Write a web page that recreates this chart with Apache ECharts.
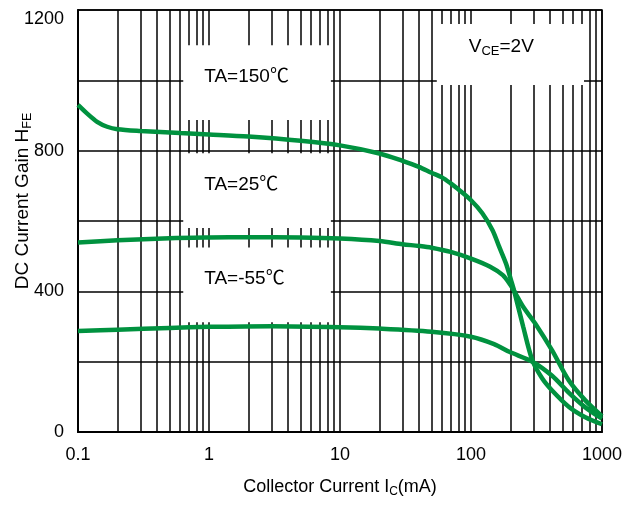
<!DOCTYPE html>
<html>
<head>
<meta charset="utf-8">
<title>hFE vs Ic</title>
<script src="https://cdn.jsdelivr.net/npm/echarts@6/dist/echarts.min.js"></script>
<style>
  html, body { margin: 0; padding: 0; background: #fff; }
  #chart { width: 637px; height: 505px; }
</style>
</head>
<body>
<div id="chart"></div>
<script>
// tick labels
var xTicks = [0.1, 1, 10, 100, 1000];
var yTicks = [0, 400, 800, 1200];

// TA=150C : Ic (mA) / hFE
var ic150  = [0.1, 0.117, 0.14, 0.167, 0.2, 0.3, 0.6, 1, 2, 5, 10, 20, 30, 40, 50, 60, 70, 80, 100, 122, 146, 164, 185, 202, 214, 250, 294, 350, 416, 557, 746, 1000];
var hfe150 = [930, 906, 882, 868, 861, 856, 850, 846, 840, 828, 815, 792, 771, 754, 737, 724, 707, 690, 659, 622, 574, 527, 479, 432, 400, 300, 204, 152, 118, 72, 42, 22];

// TA=25C
var ic25  = [0.1, 0.2, 0.5, 1, 2, 5, 10, 20, 30, 40, 50, 70, 100, 140, 175, 200, 214, 250, 310, 416, 557, 746, 1000];
var hfe25 = [539, 545, 551, 553, 554, 553, 550, 543, 534, 529, 524, 512, 493, 470, 446, 418, 400, 356, 308, 232, 147, 90, 45];

// TA=-55C
var icM55  = [0.1, 0.2, 0.5, 1, 3, 10, 20, 50, 100, 150, 196, 294, 416, 557, 746, 1000];
var hfeM55 = [287, 291, 296, 299, 301, 298, 294, 285, 271, 250, 228, 200, 160, 112, 70, 38];

function pairs(xs, ys) {
  var out = [];
  for (var i = 0; i < xs.length; i++) out.push([xs[i], ys[i]]);
  return out;
}

var green = '#00923f';
var font = 'Liberation Sans, Arial, Noto Sans CJK SC, sans-serif';

// minor vertical grid lines 2..9 in each decade
var minorX = [];
[0.1, 1, 10, 100].forEach(function (d) {
  for (var k = 2; k <= 9; k++) minorX.push({ xAxis: +(d * k).toPrecision(3) });
});

// white label boxes that hide the grid (data coordinates)
var boxes = [
  [{ name: 'TA=150℃', xAxis: 0.636, yAxis: 1100 }, { xAxis: 8.52, yAxis: 887 }],
  [{ name: 'TA=25℃', xAxis: 0.636, yAxis: 793 }, { xAxis: 8.52, yAxis: 580 }],
  [{ name: 'TA=-55℃', xAxis: 0.636, yAxis: 525 }, { xAxis: 8.52, yAxis: 312 }],
  [{ name: 'VCE', xAxis: 54.8, yAxis: 1160,
     label: { formatter: '{a|V}{s|CE}{a|=2V}', offset: [32, -8] } },
   { xAxis: 729, yAxis: 987 }]
];

var chart = echarts.init(document.getElementById('chart'));

function curve(name, data) {
  return {
    name: name,
    type: 'line',
    z: 3,
    data: data,
    symbol: 'none',
    smooth: 0.3,
    lineStyle: { color: green, width: 4.5 },
    itemStyle: { color: green },
    silent: true
  };
}

chart.setOption({
  animation: false,
  grid: {
    left: 78, right: 35, top: 10, bottom: 73,
    outerBoundsMode: 'none',
    containLabel: false,
    show: true, borderColor: '#000', borderWidth: 1.5, backgroundColor: '#fff'
  },
  xAxis: {
    type: 'log',
    logBase: 10,
    min: xTicks[0],
    max: xTicks[xTicks.length - 1],
    name: '{a|Collector Current I}{s|C}{a|(mA)}',
    nameLocation: 'middle',
    nameGap: 44,
    nameMoveOverlap: false,
    nameTextStyle: {
      rich: {
        a: { fontSize: 18, color: '#000', fontFamily: font, lineHeight: 22 },
        s: { fontSize: 12, color: '#000', fontFamily: font, verticalAlign: 'bottom', lineHeight: 15 }
      }
    },
    axisLine: { show: true, lineStyle: { color: '#000', width: 2 } },
    axisTick: { show: false },
    axisLabel: {
      color: '#000', fontSize: 18, fontFamily: font, margin: 14,
      formatter: function (v) { return xTicks.indexOf(+v.toPrecision(3)) >= 0 ? String(+v.toPrecision(3)) : ''; }
    },
    splitLine: { show: true, lineStyle: { color: '#000', width: 1.5 } }
  },
  yAxis: {
    type: 'value',
    min: 0,
    max: 1200,
    interval: 200,
    name: '{a|DC Current Gain H}{s|FE}',
    nameLocation: 'middle',
    nameGap: 44,
    nameMoveOverlap: false,
    nameTextStyle: {
      padding: [0, 0, 0, 40],
      rich: {
        a: { fontSize: 19, color: '#000', fontFamily: font, lineHeight: 22 },
        s: { fontSize: 12.5, color: '#000', fontFamily: font, verticalAlign: 'bottom', lineHeight: 15 }
      }
    },
    axisLine: { show: true, lineStyle: { color: '#000', width: 2 } },
    axisTick: { show: false },
    axisLabel: {
      color: '#000', fontSize: 18, fontFamily: font, margin: 14,
      verticalAlignMaxLabel: 'top',
      formatter: function (v) { return yTicks.indexOf(v) >= 0 ? String(v) : ''; }
    },
    splitLine: { show: true, lineStyle: { color: '#000', width: 1.5 } }
  },
  series: [
    {
      name: 'grid',
      type: 'line',
      data: [],
      silent: true,
      markLine: {
        z: 1,
        silent: true,
        symbol: ['none', 'none'],
        label: { show: false },
        lineStyle: { color: '#000', width: 1.5, type: 'solid' },
        data: minorX
      },
      markArea: {
        z: 2,
        silent: true,
        itemStyle: { color: '#fff', borderWidth: 0, opacity: 1 },
        label: {
          show: true,
          position: 'insideLeft',
          distance: 0,
          offset: [21, -6],
          color: '#000',
          fontSize: 19,
          fontFamily: font,
          rich: {
            a: { fontSize: 19, color: '#000', fontFamily: font, lineHeight: 22 },
            s: { fontSize: 13, color: '#000', fontFamily: font, verticalAlign: 'bottom', lineHeight: 15 }
          }
        },
        data: boxes
      }
    },
    curve('TA=150℃', pairs(ic150, hfe150)),
    curve('TA=25℃', pairs(ic25, hfe25)),
    curve('TA=-55℃', pairs(icM55, hfeM55))
  ]
});
</script>
</body>
</html>
